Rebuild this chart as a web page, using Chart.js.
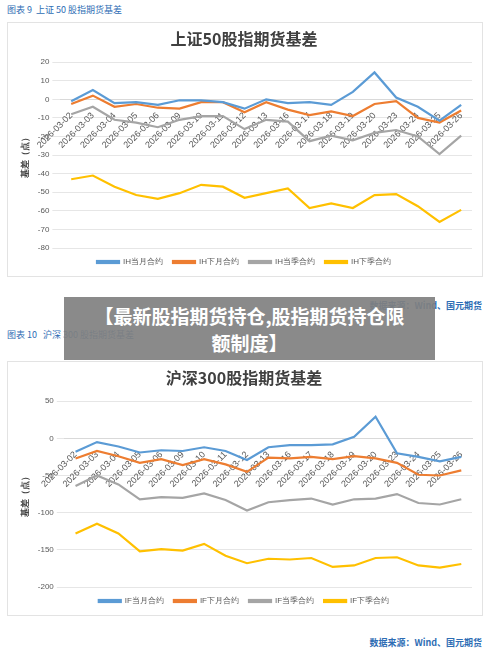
<!DOCTYPE html>
<html><head><meta charset="utf-8">
<script src="https://cdn.jsdelivr.net/npm/chart.js@4/dist/chart.umd.min.js"></script>
<style>
body{margin:0;width:500px;height:657px;background:#fff;position:relative;font-family:"Noto Sans CJK SC",sans-serif;overflow:hidden}
.cap{position:absolute;left:7px;color:#2e6db4;font-size:9px}
.box{position:absolute;left:7px;width:476px;height:255px;border:1px solid #e3e3e3;box-sizing:border-box}
.src{position:absolute;right:18px;color:#2e6db4;font-size:9px;font-weight:bold}
#banner{position:absolute;left:64px;top:297px;width:371px;height:63px;background:rgba(128,128,128,0.92);color:#fff;font-weight:bold;font-size:19px;line-height:27px;text-align:center;padding-top:5px;box-sizing:border-box}
</style></head><body>
<div class="cap" style="top:3px">图表 9&nbsp; 上证 50 股指期货基差</div>
<div class="box" style="top:22px"><canvas id="c1" width="474" height="253"></canvas></div>
<div class="src" style="top:299px">数据来源：Wind、国元期货</div>
<div class="cap" style="top:328px">图表 10&nbsp;&nbsp; 沪深 300 股指期货基差</div>
<div class="box" style="top:361px"><canvas id="c2" width="474" height="253"></canvas></div>
<div class="src" style="top:636px">数据来源：Wind、国元期货</div>
<div id="banner">【最新股指期货持仓,股指期货持仓限<br>额制度】</div>
<script>
const dates=["2026-03-02","2026-03-03","2026-03-04","2026-03-05","2026-03-06","2026-03-09","2026-03-10","2026-03-11","2026-03-12","2026-03-13","2026-03-16","2026-03-17","2026-03-18","2026-03-19","2026-03-20","2026-03-23","2026-03-24","2026-03-25","2026-03-26"];
const ihNames=["IH当月合约","IH下月合约","IH当季合约","IH下季合约"];
const ihCur=[-1,5,-2,-1.5,-3,-0.5,-0.5,-1.5,-5,0,-2,-1.5,-3,4,14.5,1,-4,-11.5,-3];
const ihNext=[-2.5,2,-4,-2.5,-4.5,-5,-1.5,-1.5,-7,-1.5,-5.5,-8.5,-6.5,-9,-2.5,-1,-10,-12.5,-6];
const ihQ=[-8,-4,-11,-12.5,-15,-11,-9,-9,-16,-11,-12,-22.5,-19.5,-22,-18,-16.5,-20,-29.5,-19.5];
const ihNQ=[-43,-41,-47,-51.5,-53.5,-50.5,-46,-47,-53,-50.5,-48,-58.5,-56,-58.5,-51.5,-51,-57.5,-66,-59.5];
const ifNames=["IF当月合约","IF下月合约","IF当季合约","IF下季合约"];
const ifCur=[-18,-5,-11,-19,-16,-17,-12,-17,-29,-12,-9,-9,-8,2,29,-20,-25,-31,-25];
const ifNext=[-27,-17,-24,-33,-28,-36,-28,-35,-45,-26,-27,-25,-28,-24,-27,-33,-49,-50,-43];
const ifQ=[-64,-50,-62,-82,-79,-80,-74,-83,-97,-86,-83,-81,-89,-82,-81,-75,-87,-89,-82];
const ifNQ=[-128,-115,-128,-152,-149,-151,-142,-158,-168,-162,-163,-161,-173,-171,-161,-160,-171,-174,-169];
const colors=["#5b9bd5","#ed7d31","#a5a5a5","#ffc000"];
function make(id,title,names,series,min,max,step){
  new Chart(document.getElementById(id),{type:'line',
    data:{labels:dates,datasets:series.map((d,i)=>({label:names[i],data:d,borderColor:colors[i],backgroundColor:colors[i],borderWidth:2.2,pointRadius:0,tension:0}))},
    options:{responsive:false,animation:false,
      layout:{padding:{left:8,right:10,top:0,bottom:0}},
      plugins:{title:{display:true,text:title,color:'#404040',font:{size:16,family:'"Noto Sans CJK SC"'},padding:{top:6,bottom:14}},
        legend:{position:'bottom',labels:{boxWidth:22,boxHeight:2,color:'#595959',font:{size:8},padding:10}},tooltip:{enabled:false}},
      scales:{
        x:{position:{y:0},offset:true,grid:{display:false},border:{color:'#d9d9d9'},ticks:{color:'#595959',font:{size:9},maxRotation:45,minRotation:45,autoSkip:false}},
        y:{min:min,max:max,ticks:{stepSize:step,color:'#595959',font:{size:8}},grid:{color:'#e6e6e6'},border:{display:false},
           title:{display:true,text:'基差（点）',color:'#404040',font:{size:9,weight:'bold'}}}
      }}});
}
make('c1','上证50股指期货基差',ihNames,[ihCur,ihNext,ihQ,ihNQ],-80,20,10);
make('c2','沪深300股指期货基差',ifNames,[ifCur,ifNext,ifQ,ifNQ],-200,50,50);
</script></body></html>
